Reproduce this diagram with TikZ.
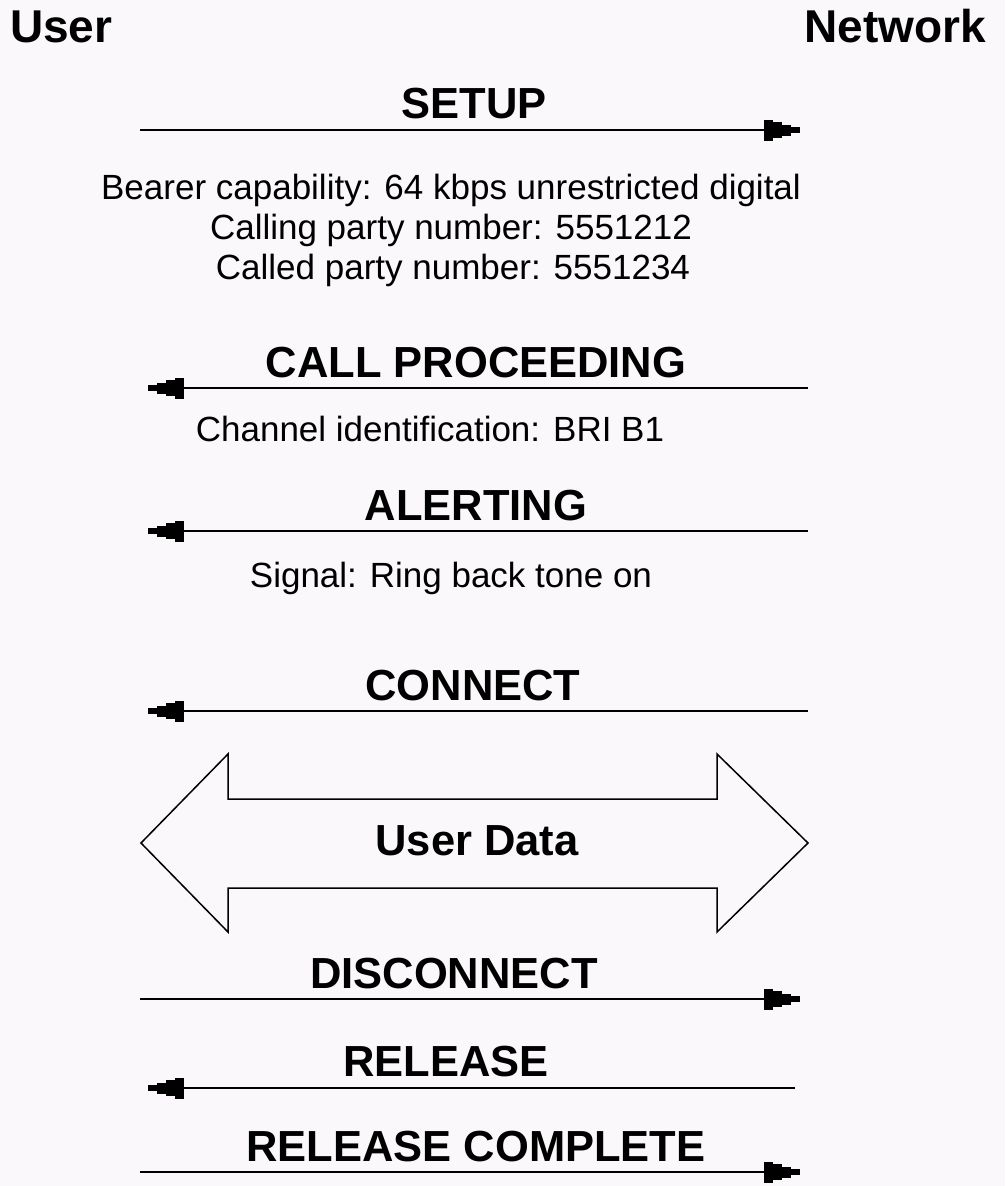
\documentclass[tikz,border=0pt]{standalone}
\usepackage{fontspec}
\setmainfont{Liberation Sans}
\usetikzlibrary{arrows.meta}
\definecolor{bg}{RGB}{250,248,251}
\tikzset{
  stepped/.tip={Rectangle[length=9pt,width=21pt,sep=0pt,line width=0pt]
                Rectangle[length=9pt,width=16pt,sep=0pt,line width=0pt]
                Rectangle[length=9pt,width=11pt,sep=0pt,line width=0pt]
                Rectangle[length=9pt,width=6pt,sep=0pt,line width=0pt]},
  msg/.style={draw=black,line width=2pt,-{stepped}},
  party/.style={inner sep=0pt,font=\fontsize{46}{46}\selectfont\bfseries},
  title/.style={inner sep=0pt,anchor=base,font=\fontsize{43.5}{43.5}\selectfont\bfseries},
  info/.style={inner sep=0pt,anchor=base,font=\fontsize{35}{35}\selectfont},
  bigarrow/.style={draw=black,line width=1.5pt,line join=miter}
}
\begin{document}
\begin{tikzpicture}[x=1pt,y=-1pt]
\fill[bg] (0,0) rectangle (1005,1186);
\useasboundingbox (0,0) rectangle (1005,1186);

\node[party,anchor=base west] (user) at (10,42) {User};
\node[party,anchor=base east] (net) at (986,42) {Network};

% SETUP
\node[title] (setup) at (474,118) {SETUP};
\coordinate (s1) at (140,130); \coordinate (s2) at (800,130);
\draw[msg] (s1) -- (s2);
\node[info] (bearer) at (451,199) {Bearer capability: 64 kbps unrestricted digital};
\node[info] (calling) at (451,239) {Calling party number: 5551212};
\node[info] (called) at (453,279) {Called party number: 5551234};

% CALL PROCEEDING
\node[title] (cp) at (476,377) {CALL PROCEEDING};
\coordinate (cp1) at (808,388); \coordinate (cp2) at (148,388);
\draw[msg] (cp1) -- (cp2);
\node[info] (chan) at (430,441) {Channel identification: BRI B1};

% ALERTING
\node[title] (al) at (476,520) {ALERTING};
\coordinate (al1) at (808,531); \coordinate (al2) at (148,531);
\draw[msg] (al1) -- (al2);
\node[info] (sig) at (451,587) {Signal: Ring back tone on};

% CONNECT
\node[title] (con) at (473,700) {CONNECT};
\coordinate (co1) at (808,711); \coordinate (co2) at (148,711);
\draw[msg] (co1) -- (co2);

% User data double arrow
\draw[bigarrow] (141,843) -- (228,754) -- (228,799) -- (717,799) -- (717,754)
  -- (808,843) -- (717,932) -- (717,888) -- (228,888) -- (228,932) -- cycle;
\node[title] (ud) at (477,855) {User Data};

% DISCONNECT
\node[title] (dis) at (454,988) {DISCONNECT};
\coordinate (d1) at (140,999); \coordinate (d2) at (800,999);
\draw[msg] (d1) -- (d2);

% RELEASE
\node[title] (rel) at (446,1076) {RELEASE};
\coordinate (r1) at (795,1088); \coordinate (r2) at (148,1088);
\draw[msg] (r1) -- (r2);

% RELEASE COMPLETE
\node[title] (rc) at (476,1161) {RELEASE COMPLETE};
\coordinate (rc1) at (140,1172); \coordinate (rc2) at (800,1172);
\draw[msg] (rc1) -- (rc2);
\end{tikzpicture}
\end{document}
